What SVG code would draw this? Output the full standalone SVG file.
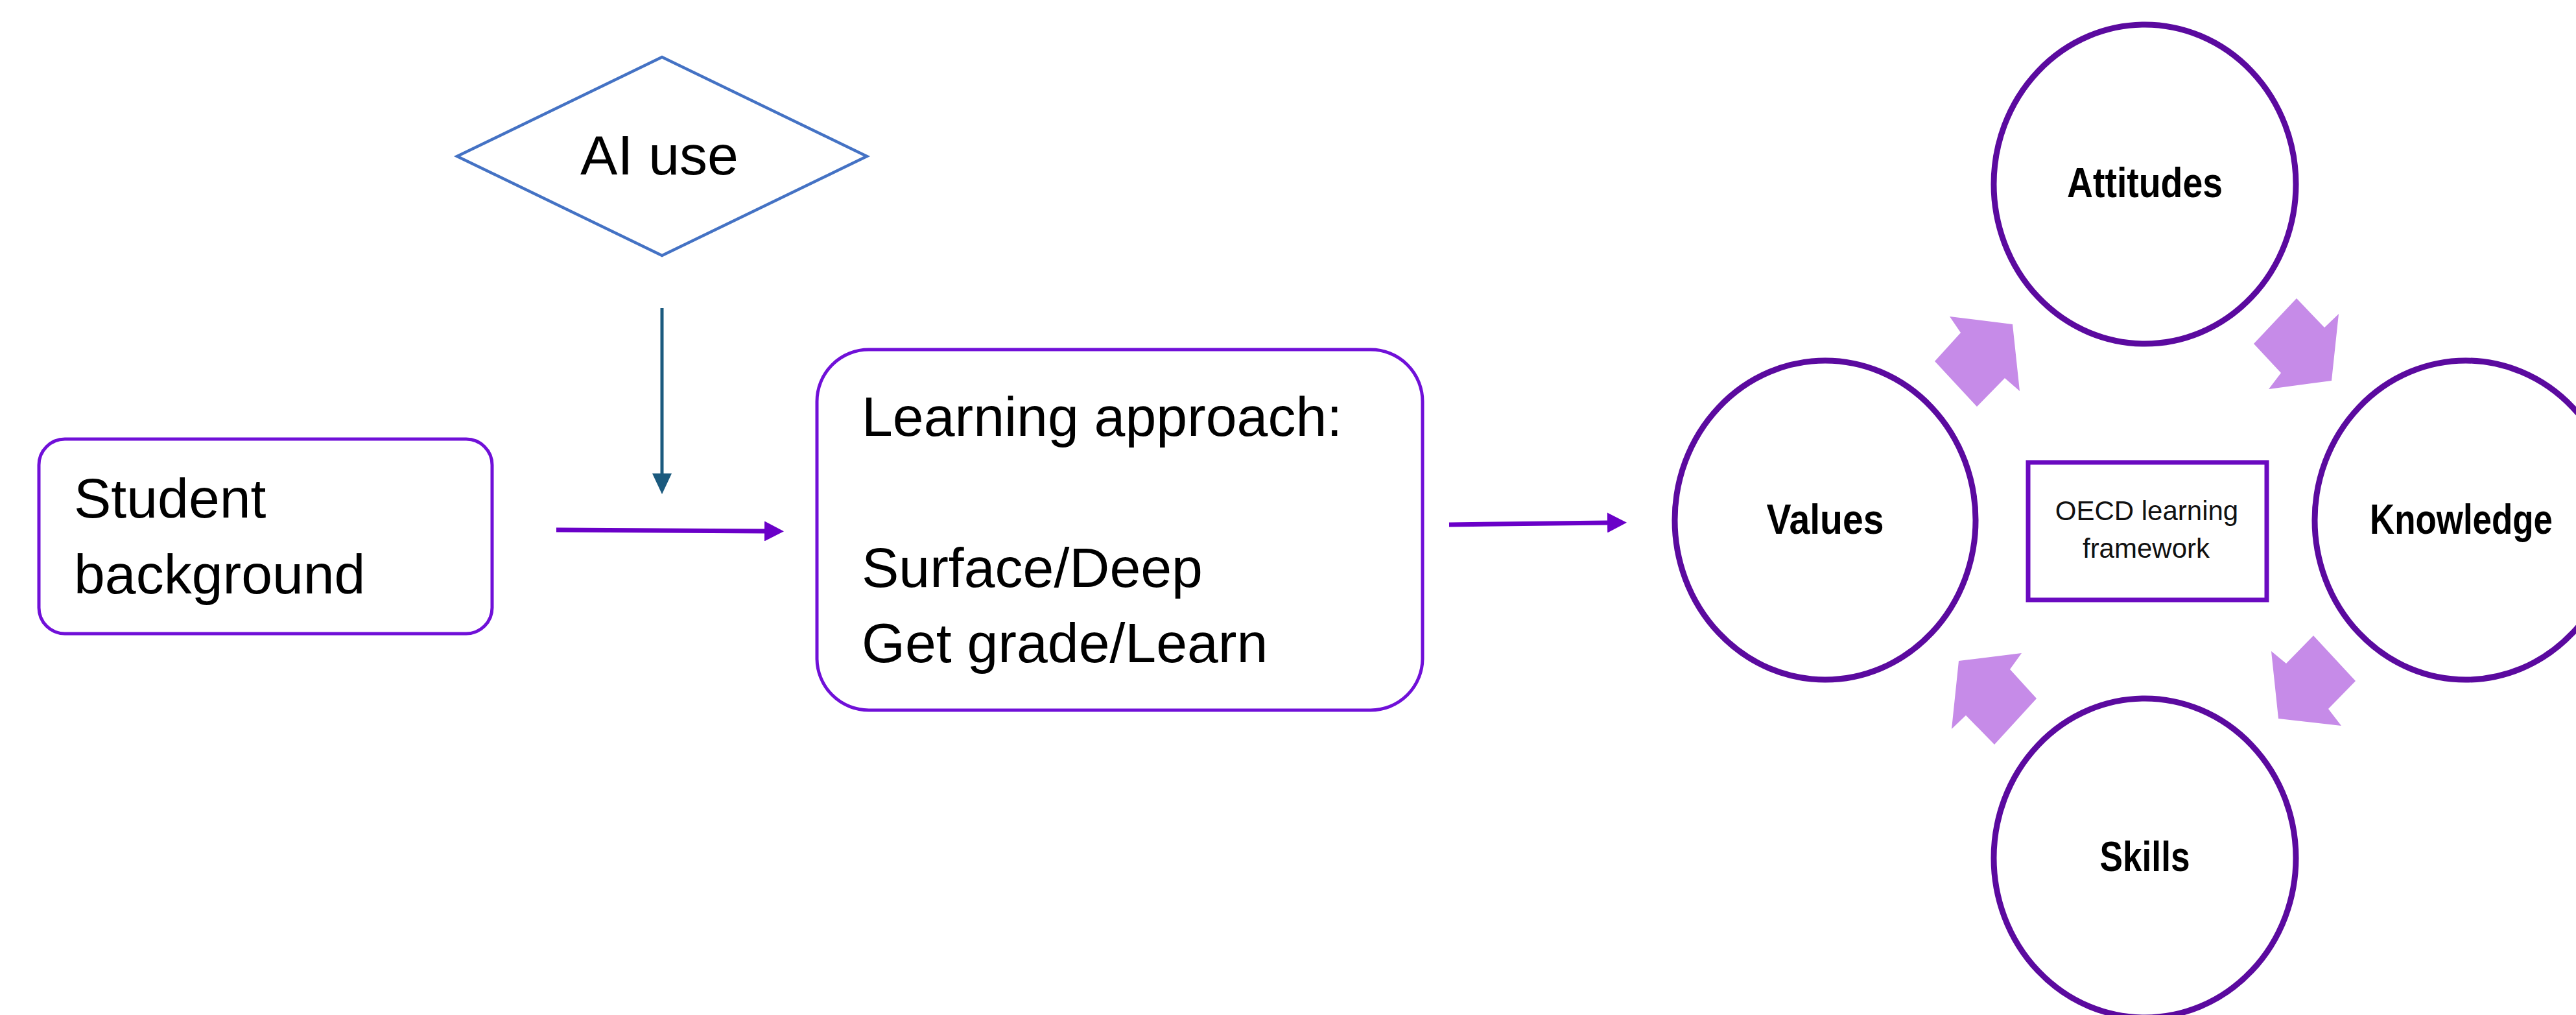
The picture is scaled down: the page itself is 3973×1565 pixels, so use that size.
<svg xmlns="http://www.w3.org/2000/svg" width="3973" height="1565" viewBox="0 0 3973 1565">
<style>
.box{fill:#fff;stroke:#7010D8;stroke-width:5}
.lbl{font-family:"Liberation Sans",Arial,sans-serif;font-size:86px;fill:#000}
.circ{fill:#fff;stroke:#5B0A9F;stroke-width:9}
.clbl{font-family:"Liberation Sans",Arial,sans-serif;font-size:64px;font-weight:bold;fill:#000;text-anchor:middle}
.olbl{font-family:"Liberation Sans",Arial,sans-serif;font-size:42px;fill:#111;text-anchor:middle}
.conn{fill:none;stroke:#6A00C8;stroke-width:7}
.conn2{fill:none;stroke:#1B5A7E;stroke-width:5}
.blk{fill:#C68BE8;stroke:none}
</style>
<defs>
<marker id="headP" markerUnits="userSpaceOnUse" viewBox="0 0 30 31" markerWidth="30" markerHeight="31" refX="0" refY="15.5" orient="auto">
<path d="M0,0 L30,15.5 L0,31 z" fill="#6A00C8"/>
</marker>
<marker id="headB" markerUnits="userSpaceOnUse" viewBox="0 0 32 30" markerWidth="32" markerHeight="30" refX="0" refY="15" orient="auto">
<path d="M0,0 L32,15 L0,30 z" fill="#1B5A7E"/>
</marker>
</defs>
<rect width="3973" height="1565" fill="#fff"/>

<g id="connectors">
<line class="conn2" x1="1021" y1="475" x2="1021" y2="730" marker-end="url(#headB)"/>
<line class="conn" x1="858" y1="817" x2="1179" y2="819" marker-end="url(#headP)"/>
<line class="conn" x1="2235" y1="809" x2="2479" y2="806" marker-end="url(#headP)"/>
</g>

<g id="ai-use">
<polygon points="1021,88 1337,241 1021,394 705,241" fill="#fff" stroke="#4472C4" stroke-width="4.5"/>
<text class="lbl" x="1017" y="269" font-size="84" text-anchor="middle">AI use</text>
</g>

<g id="student-background">
<rect class="box" x="60" y="677" width="699" height="300" rx="40" ry="40"/>
<text class="lbl" x="114" y="798">Student</text>
<text class="lbl" x="114" y="915">background</text>
</g>

<g id="learning-approach">
<rect class="box" x="1260" y="539" width="934" height="556" rx="80" ry="80"/>
<text class="lbl" x="1329" y="672">Learning approach:</text>
<text class="lbl" x="1329" y="905">Surface/Deep</text>
<text class="lbl" x="1329" y="1021">Get grade/Learn</text>
</g>

<g id="cycle-arrows">
<polygon class="blk" points="3007,488 3104,500 3115,603 3092,583 3049,627 2984,557 3024,513"/>
<polygon class="blk" points="3542,460 3585,505 3607,484 3596,587 3499,600 3518,575 3476,530"/>
<polygon class="blk" points="3568,980 3633,1050 3591,1093 3611,1119 3514,1108 3503,1004 3526,1023"/>
<polygon class="blk" points="3118,1007 3100,1032 3141,1077 3076,1148 3032,1103 3010,1124 3021,1019"/>
</g>

<g id="attitudes">
<ellipse class="circ" cx="3308" cy="284" rx="233" ry="246"/>
<text class="clbl" x="3308" y="304" textLength="240" lengthAdjust="spacingAndGlyphs">Attitudes</text>
</g>

<g id="values">
<ellipse class="circ" cx="2815" cy="802" rx="232" ry="246"/>
<text class="clbl" x="2815" y="823" textLength="181" lengthAdjust="spacingAndGlyphs">Values</text>
</g>

<g id="knowledge">
<ellipse class="circ" cx="3803" cy="802" rx="233" ry="246"/>
<text class="clbl" x="3796" y="823" textLength="282" lengthAdjust="spacingAndGlyphs">Knowledge</text>
</g>

<g id="skills">
<ellipse class="circ" cx="3308" cy="1323" rx="233" ry="246"/>
<text class="clbl" x="3308" y="1343" textLength="139" lengthAdjust="spacingAndGlyphs">Skills</text>
</g>

<g id="oecd-framework">
<rect x="3128" y="713" width="368" height="212" fill="#fff" stroke="#6A0AC0" stroke-width="7"/>
<text class="olbl" x="3311" y="802">OECD learning</text>
<text class="olbl" x="3310" y="860" font-size="43">framework</text>
</g>
</svg>
